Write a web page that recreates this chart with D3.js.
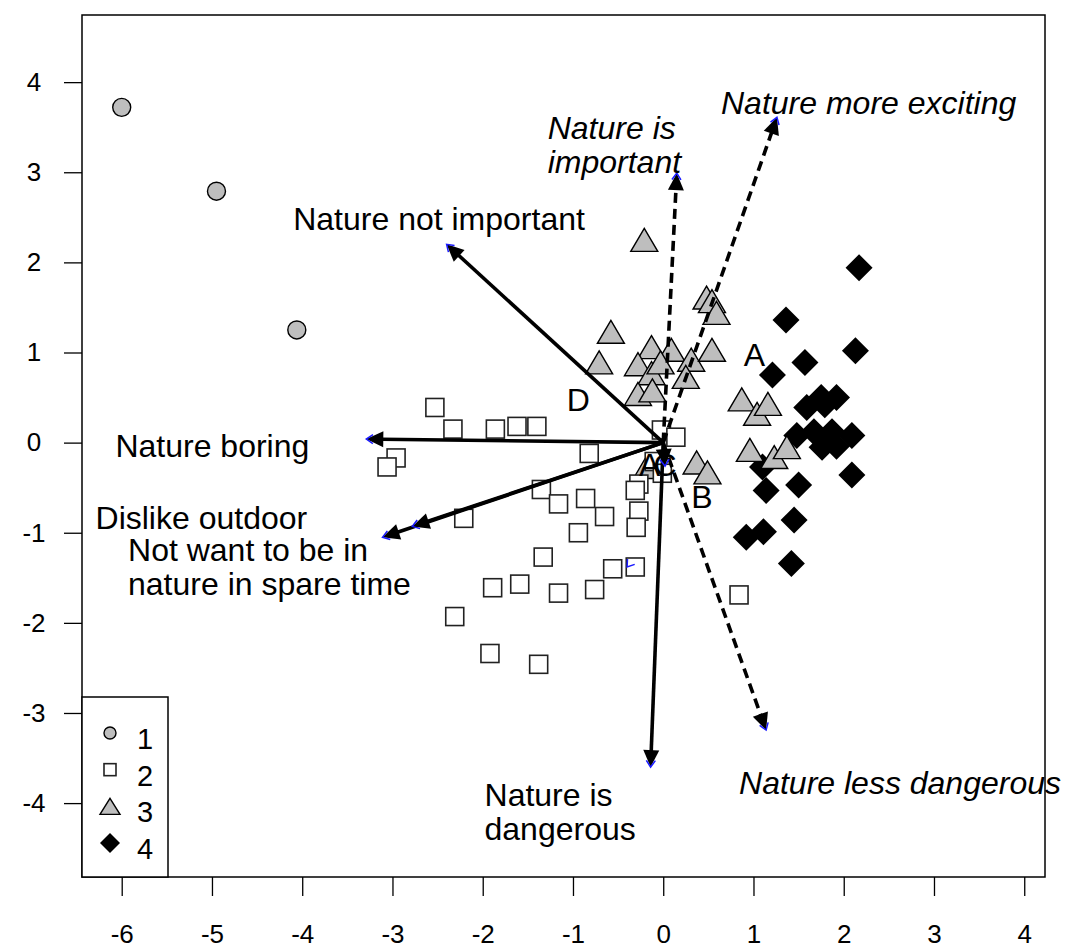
<!DOCTYPE html>
<html>
<head>
<meta charset="utf-8">
<script src="https://cdn.jsdelivr.net/npm/d3@7"></script>
<style>
  body { margin: 0; background: #fff; }
  svg text { font-family: "Liberation Sans", Arial, sans-serif; fill: #000; }
</style>
</head>
<body>
<svg width="1065" height="949"></svg>
<script>
// Scores, one array per cluster
var group1 = [[-6.00, 3.72], [-4.95, 2.79], [-4.06, 1.25]];
var group2 = [
  [-2.53, 0.39], [-2.33, 0.15], [-1.86, 0.15], [-1.62, 0.18], [-1.40, 0.18],
  [-0.82, -0.12], [-2.96, -0.17], [-3.06, -0.27], [-1.35, -0.52], [-1.16, -0.68],
  [-0.86, -0.62], [-0.65, -0.82], [-2.21, -0.84], [-0.94, -1.00], [-1.33, -1.27],
  [-1.89, -1.61], [-1.59, -1.57], [-1.16, -1.67], [-0.76, -1.63], [-0.56, -1.40],
  [-0.31, -1.38], [-2.31, -1.93], [-1.92, -2.34], [-1.38, -2.46], [-0.27, -0.46],
  [-0.31, -0.53], [-0.27, -0.76], [-0.30, -0.94], [-0.02, 0.14], [0.14, 0.06],
  [-0.10, -0.21], [-0.01, -0.34], [0.84, -1.69]
];
var group3 = [
  [-0.21, 2.25], [-0.58, 1.23], [-0.71, 0.89], [-0.13, 1.06], [0.09, 1.03],
  [-0.28, 0.87], [-0.13, 0.77], [-0.03, 0.89], [0.31, 0.92], [0.25, 0.73],
  [0.54, 1.03], [-0.28, 0.54], [-0.12, 0.58], [0.48, 1.61], [0.54, 1.57],
  [0.59, 1.44], [0.87, 0.48], [1.04, 0.32], [1.16, 0.43], [0.96, -0.08],
  [1.23, -0.16], [1.37, -0.05], [0.37, -0.22], [0.49, -0.33], [-0.18, -0.27]
];
var group4 = [
  [2.17, 1.94], [1.36, 1.36], [2.13, 1.02], [1.57, 0.89], [1.21, 0.75],
  [1.75, 0.50], [1.92, 0.50], [1.59, 0.39], [1.79, 0.42], [1.48, 0.08],
  [1.67, 0.12], [1.87, 0.12], [2.09, 0.08], [1.76, -0.05], [1.92, -0.04],
  [1.10, -0.27], [2.09, -0.36], [1.50, -0.47], [1.14, -0.53], [1.45, -0.86],
  [0.92, -1.05], [1.11, -0.99], [1.42, -1.34]
];

// Variable vectors (all start at the origin)
var arrowEnds = [
  [-2.40, 2.20], [-3.29, 0.04], [-2.78, -0.93], [-3.11, -1.05], [-0.14, -3.60],
  [0.02, -0.26], [0.15, 2.99], [1.26, 3.61], [1.14, -3.19]
];
var arrowDashed = [false, false, false, false, false, false, true, true, true];
var strayTip = [-0.40, -1.38];

var labelTexts = [
  ["Nature is", "important"], ["Nature more exciting"], ["Nature not important"],
  ["Nature boring"], ["Dislike outdoor"], ["Not want to be in", "nature in spare time"],
  ["Nature is", "dangerous"], ["Nature less dangerous"]
];
var labelAnchors = [
  [-1.28, 3.49], [0.64, 3.77], [-4.10, 2.48], [-6.07, -0.04],
  [-6.29, -0.83], [-5.93, -1.19], [-1.98, -3.91], [0.84, -3.77]
];
var labelItalic = [true, true, false, false, false, false, false, true];

var letterTexts = ["A", "B", "D", "A", "C"];
var letterAnchors = [[1.01, 0.97], [0.43, -0.60], [-0.94, 0.47], [-0.15, -0.25], [0.02, -0.25]];

var xTicks = [-6, -5, -4, -3, -2, -1, 0, 1, 2, 3, 4];
var yTicks = [-4, -3, -2, -1, 0, 1, 2, 3, 4];
var legendKeys = ["1", "2", "3", "4"];

var svg = d3.select("svg");
var plotL = 82, plotR = 1045, plotT = 15, plotB = 877;

var x = d3.scaleLinear().domain([-6.44, 4.23]).range([plotL, plotR]);
var y = d3.scaleLinear().domain([-4.82, 4.745]).range([plotB, plotT]);

var grey = "#bebebe";

// symbol painters
function circle(g, cx, cy, r) {
  g.append("circle").attr("cx", cx).attr("cy", cy).attr("r", r)
    .attr("fill", grey).attr("stroke", "#000").attr("stroke-width", 1.4);
}
function square(g, cx, cy, s) {
  g.append("rect").attr("x", cx - s / 2).attr("y", cy - s / 2)
    .attr("width", s).attr("height", s)
    .attr("fill", "#fff").attr("stroke", "#222").attr("stroke-width", 1.6);
}
function triangle(g, cx, cy, w, h) {
  g.append("path")
    .attr("d", "M" + cx + "," + (cy - h / 2) + "L" + (cx + w / 2) + "," + (cy + h / 2) +
      "L" + (cx - w / 2) + "," + (cy + h / 2) + "Z")
    .attr("fill", grey).attr("stroke", "#000").attr("stroke-width", 1.4);
}
function diamond(g, cx, cy, r) {
  g.append("path")
    .attr("d", "M" + cx + "," + (cy - r) + "L" + (cx + r) + "," + cy +
      "L" + cx + "," + (cy + r) + "L" + (cx - r) + "," + cy + "Z")
    .attr("fill", "#000");
}

// Points
var pts = svg.append("g");
group4.forEach(function (d) { diamond(pts, x(d[0]), y(d[1]), 13.5); });
group3.forEach(function (d) { triangle(pts, x(d[0]), y(d[1]), 27, 23); });
group2.forEach(function (d) { square(pts, x(d[0]), y(d[1]), 18); });
group1.forEach(function (d) { circle(pts, x(d[0]), y(d[1]), 9); });

// Arrows
function unit(x0, y0, x1, y1) {
  var dx = x1 - x0, dy = y1 - y0, L = Math.hypot(dx, dy);
  return [dx / L, dy / L];
}
var arr = svg.append("g");
var ox = x(0), oy = y(0);
var headLen = 17, headHalf = 8;
arrowEnds.forEach(function (d, i) {
  var tx = x(d[0]), ty = y(d[1]);
  var u = unit(ox, oy, tx, ty);
  var bx = tx - u[0] * headLen, by = ty - u[1] * headLen;
  arr.append("line")
    .attr("x1", ox).attr("y1", oy).attr("x2", bx + u[0] * 2).attr("y2", by + u[1] * 2)
    .attr("stroke", "#000").attr("stroke-width", 3.6)
    .attr("stroke-dasharray", arrowDashed[i] ? "10,6" : null);
  arr.append("path")
    .attr("d", "M" + tx + "," + ty +
      "L" + (bx - u[1] * headHalf) + "," + (by + u[0] * headHalf) +
      "L" + (bx + u[1] * headHalf) + "," + (by - u[0] * headHalf) + "Z")
    .attr("fill", "#000");
});

// small blue heads at the tips
function blueTip(tx, ty, u) {
  var a = 8, c = Math.cos(0.6), s = Math.sin(0.6);
  var bx = -u[0], by = -u[1];
  var p1 = [tx + a * (bx * c - by * s), ty + a * (bx * s + by * c)];
  var p2 = [tx + a * (bx * c + by * s), ty + a * (-bx * s + by * c)];
  arr.append("path")
    .attr("d", "M" + p1 + "L" + tx + "," + ty + "L" + p2)
    .attr("fill", "none").attr("stroke", "#1a1aff").attr("stroke-width", 1.5);
}
arrowEnds.forEach(function (d) {
  var tx = x(d[0]), ty = y(d[1]);
  blueTip(tx, ty, unit(ox, oy, tx, ty));
});
blueTip(x(strayTip[0]), y(strayTip[1]), [-0.6, 0.8]);

// Variable labels
var lab = svg.append("g").attr("font-size", 32);
labelTexts.forEach(function (lines, i) {
  var t = lab.append("text")
    .attr("x", x(labelAnchors[i][0]))
    .attr("y", y(labelAnchors[i][1]))
    .attr("font-style", labelItalic[i] ? "italic" : "normal");
  lines.forEach(function (s, j) {
    t.append("tspan")
      .attr("x", x(labelAnchors[i][0]))
      .attr("dy", j === 0 ? "0.35em" : 34)
      .text(s);
  });
});
letterTexts.forEach(function (s, i) {
  lab.append("text")
    .attr("x", x(letterAnchors[i][0])).attr("y", y(letterAnchors[i][1]))
    .attr("dy", "0.35em").attr("text-anchor", "middle")
    .text(s);
});

// Frame and axes
svg.append("rect")
  .attr("x", plotL).attr("y", plotT).attr("width", plotR - plotL).attr("height", plotB - plotT)
  .attr("fill", "none").attr("stroke", "#000").attr("stroke-width", 1.5);

var fmt = function (d) { return String(d); };

var xAxis = svg.append("g")
  .attr("transform", "translate(0," + plotB + ")")
  .call(d3.axisBottom(x).tickValues(xTicks).tickSize(19).tickPadding(29).tickFormat(fmt));
xAxis.select(".domain").remove();
xAxis.selectAll("text").attr("font-size", 26).attr("font-family", "Liberation Sans, Arial, sans-serif");
xAxis.selectAll("line").attr("stroke-width", 1.3);

var yAxis = svg.append("g")
  .attr("transform", "translate(" + plotL + ",0)")
  .call(d3.axisLeft(y).tickValues(yTicks).tickSize(18).tickFormat(fmt));
yAxis.select(".domain").remove();
yAxis.selectAll("text")
  .attr("text-anchor", "middle").attr("x", 34 - plotL)
  .attr("font-size", 26).attr("font-family", "Liberation Sans, Arial, sans-serif");
yAxis.selectAll("line").attr("stroke-width", 1.3);

// Legend
var leg = svg.append("g");
leg.append("rect")
  .attr("x", plotL).attr("y", 697).attr("width", 86).attr("height", plotB - 697)
  .attr("fill", "#fff").attr("stroke", "#000").attr("stroke-width", 1.5);
var legY = d3.scalePoint().domain(legendKeys).range([733, 843]);
circle(leg, 110, legY("1"), 6);
square(leg, 110, legY("2"), 12);
triangle(leg, 110, legY("3"), 20, 16);
diamond(leg, 110, legY("4"), 10);
leg.selectAll("text.key")
  .data(legendKeys)
  .enter()
  .append("text")
  .attr("class", "key")
  .attr("x", 137)
  .attr("y", function (d) { return legY(d) + 6; })
  .attr("dy", "0.35em")
  .attr("font-size", 29)
  .text(function (d) { return d; });
</script>
</body>
</html>
